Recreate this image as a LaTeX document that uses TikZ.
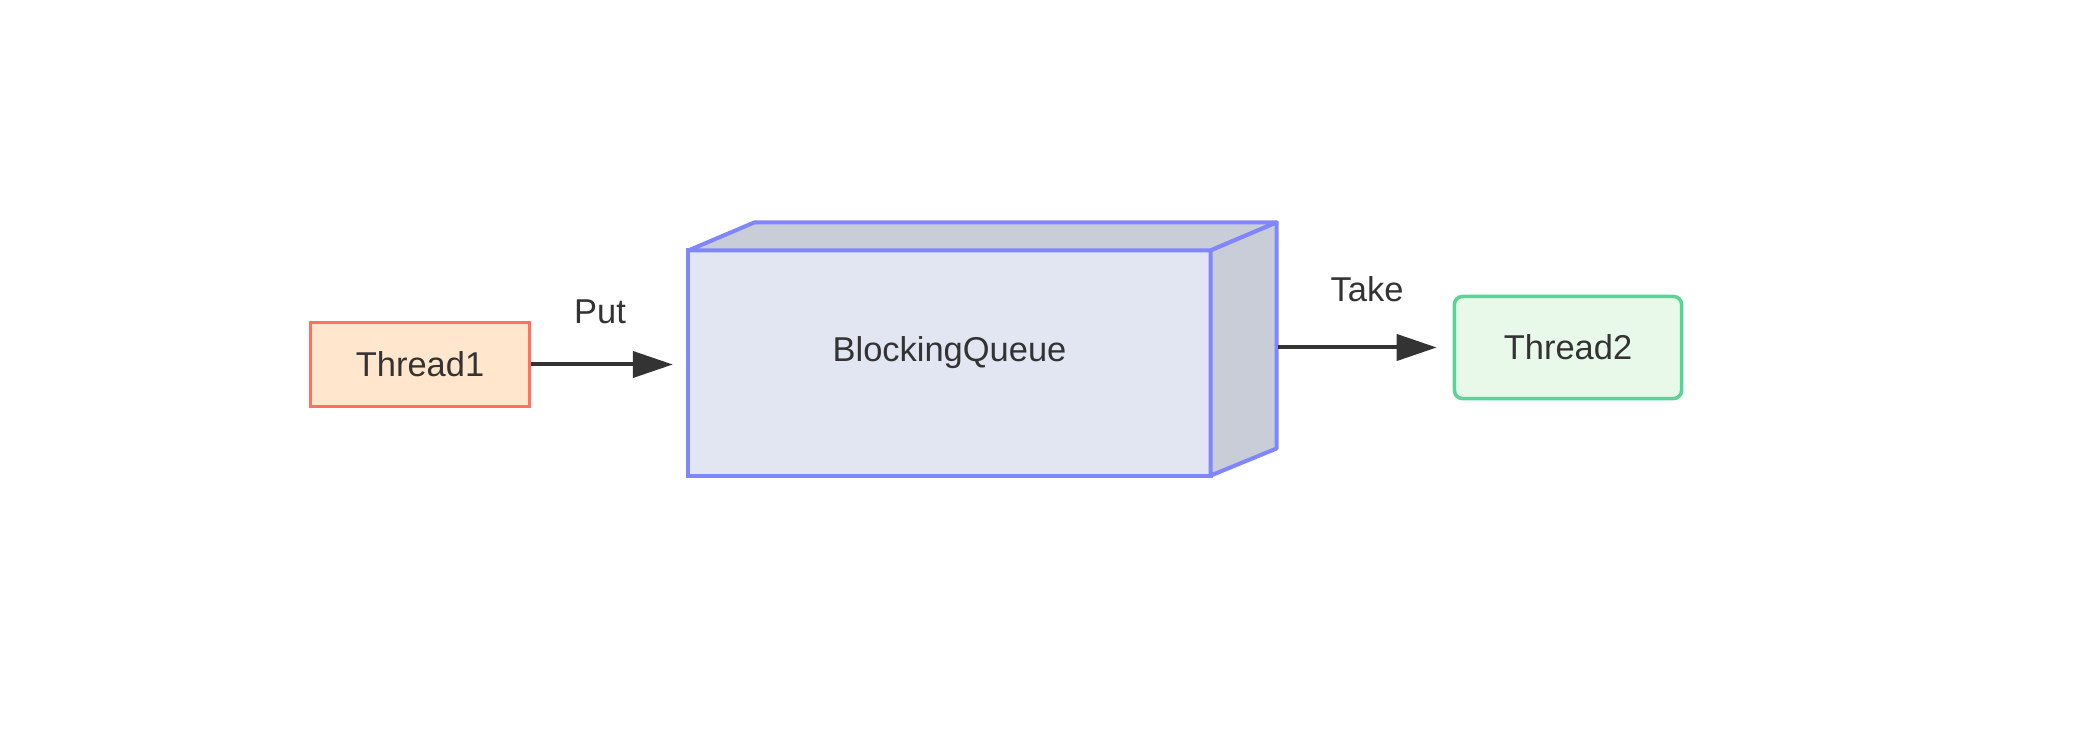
\documentclass[tikz,border=0pt]{standalone}
\usepackage{fontspec}
\setmainfont{Liberation Sans}
\usetikzlibrary{arrows.meta}

\definecolor{inkgray}{HTML}{333333}
\definecolor{redline}{HTML}{FF7061}
\definecolor{peachfill}{HTML}{FFE6CD}
\definecolor{greenline}{HTML}{55D597}
\definecolor{greenfill}{HTML}{E8F9EA}
\definecolor{blueline}{HTML}{7F86FF}
\definecolor{frontfill}{HTML}{E2E6F2}
\definecolor{sidefill}{HTML}{C9CDD8}

\tikzset{
  thread/.style={draw, line width=0.035cm, inner sep=0pt, text=inkgray,
    font=\fontsize{9.8}{11}\selectfont},
  queue/.style={draw=blueline, fill=frontfill, line width=0.04cm, inner sep=0pt,
    outer sep=0pt, minimum width=5.22cm, minimum height=2.25cm, text=inkgray,
    text height=0.25cm, text depth=0.27cm, font=\fontsize{9.8}{11}\selectfont},
  queueside/.style={draw=blueline, fill=sidefill, line width=0.04cm,
    line join=round},
  flow/.style={draw=inkgray, line width=0.04cm,
    -{Triangle[length=0.40cm,width=0.26cm]}},
  lbl/.style={text=inkgray, inner sep=0pt, font=\fontsize{9.8}{11}\selectfont}
}

\begin{document}
\begin{tikzpicture}[x=0.01cm, y=-0.01cm]
  \useasboundingbox (0,0) rectangle (2088,752);
  \fill[white] (0,0) rectangle (2088,752);

  % Threads
  \node[thread, draw=redline, fill=peachfill, minimum width=2.19cm,
    minimum height=0.84cm] (t1) at (420,364.5) {Thread1};
  \node[thread, draw=greenline, fill=greenfill, rounded corners=0.08cm,
    minimum width=2.27cm, minimum height=1.02cm] (t2) at (1568,347.5) {Thread2};

  % Queue box
  \node[queue] (q) at (949.5,363) {BlockingQueue};
  \filldraw[queueside] (q.north west) -- ++(66,-28)
    -- ([shift={(66,-28)}]q.north east) -- (q.north east) -- cycle;
  \filldraw[queueside] (q.north east) -- ++(66,-28) -- ++(0,226)
    -- (q.south east) -- cycle;
  \coordinate (qout) at ([xshift=0.67cm]q.east);

  % Arrows
  \draw[flow, shorten >=0.155cm] (t1.east) -- (t1.east -| q.west);
  \draw[flow, shorten >=0.16cm] (qout |- t2.west) -- (t2.west);

  \node[lbl, anchor=base] (put) at (600,324) {Put};
  \node[lbl, anchor=base] (take) at (1367,302) {Take};
\end{tikzpicture}
\end{document}
